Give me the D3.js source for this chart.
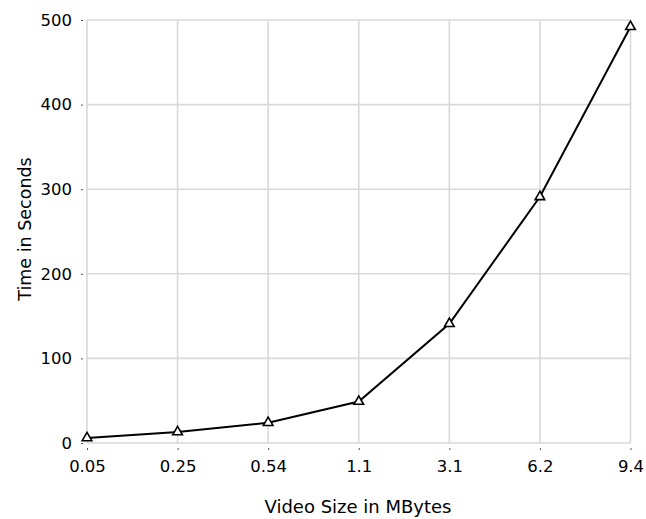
<!DOCTYPE html>
<html><head><meta charset="utf-8">
<script src="https://cdn.jsdelivr.net/npm/d3@7"></script>
<style>body{margin:0;background:#fff}svg{display:block}text{font-family:"DejaVu Sans",sans-serif;fill:#000}</style>
</head><body><svg id="c" width="646" height="519"></svg>
<script>
const categories = ["0.05","0.25","0.54","1.1","3.1","6.2","9.4"];
const timeSeconds = [6, 13, 24, 49, 141, 291, 492];
const yTicks = [0,100,200,300,400,500];

const svg = d3.select("#c");
const m = {l:87, r:630.5, t:20, b:443};
const x = d3.scalePoint().domain(categories).range([m.l, m.r]);
const y = d3.scaleLinear().domain([0,500]).range([m.b, m.t]);

const grid = svg.append("g");
grid.selectAll("line.v").data(categories).join("line")
  .attr("x1", d=>x(d)).attr("x2", d=>x(d)).attr("y1", m.t).attr("y2", m.b)
  .attr("stroke","#d9d9d9").attr("stroke-width",1.6);
grid.selectAll("line.h").data(yTicks).join("line")
  .attr("x1", m.l).attr("x2", m.r).attr("y1", d=>y(d)).attr("y2", d=>y(d))
  .attr("stroke","#d9d9d9").attr("stroke-width",1.6);

const xAxis = svg.append("g").attr("transform",`translate(0,${m.b+5})`)
  .call(d3.axisBottom(x).tickSize(2).tickPadding(10));
const yAxis = svg.append("g").attr("transform",`translate(${m.l-4},0)`)
  .call(d3.axisLeft(y).tickValues(yTicks).tickSize(2).tickPadding(9));
[xAxis,yAxis].forEach(a=>{
  a.select(".domain").remove();
  a.selectAll(".tick line").attr("stroke","#555");
  a.selectAll(".tick text").style("font-size","16.5px").style("font-family","'DejaVu Sans',sans-serif");
});

const line = d3.line().x((d,i)=>x(categories[i])).y(d=>y(d));
svg.append("path").datum(timeSeconds).attr("d", line)
  .attr("fill","none").attr("stroke","#000").attr("stroke-width",2);

const tri = d3.symbol().type(d3.symbolTriangle).size(40);
svg.selectAll("path.mk").data(timeSeconds).join("path")
  .attr("transform",(d,i)=>`translate(${x(categories[i])},${y(d)})`)
  .attr("d", tri()).attr("fill","#fff").attr("stroke","#000").attr("stroke-width",1.6);

svg.append("text").attr("x",358).attr("y",513).attr("text-anchor","middle")
  .style("font-size","18px").text("Video Size in MBytes");
svg.append("text").attr("transform",`translate(31,229) rotate(-90)`)
  .attr("text-anchor","middle").style("font-size","17.5px").text("Time in Seconds");
</script></body></html>
